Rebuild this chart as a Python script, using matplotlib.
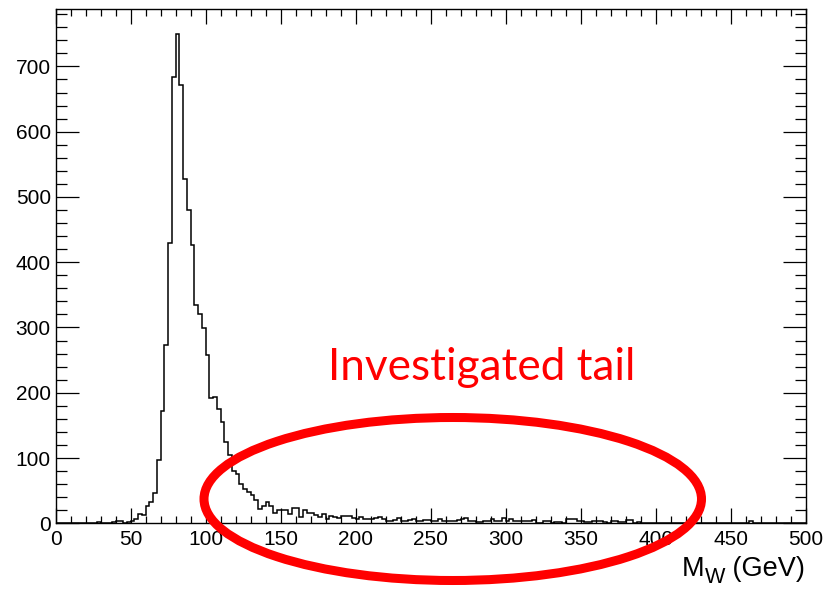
import numpy as np
import matplotlib
matplotlib.use("Agg")
import matplotlib.pyplot as plt
from matplotlib.patches import Ellipse
from matplotlib.ticker import MultipleLocator

# Reconstructed W mass spectrum: 200 bins of 2.5 GeV from 0 to 500 GeV
x_min, x_max, n_bins = 0.0, 500.0, 200
counts = [
    # 0 - 25 GeV
    0, 0, 0, 0, 0, 0, 0, 0, 0, 0,
    # 25 - 50 GeV
    1, 2, 0, 1, 0, 2, 3, 3, 1, 2,
    # 50 - 75 GeV
    4, 7, 14, 12, 27, 33, 46, 97, 172, 273,
    # 75 - 100 GeV
    429, 684, 750, 671, 527, 480, 426, 335, 320, 299,
    # 100 - 125 GeV
    258, 192, 194, 175, 155, 125, 105, 80, 76, 60,
    # 125 - 150 GeV
    52, 48, 43, 36, 22, 27, 33, 27, 16, 21,
    # 150 - 175 GeV
    20, 21, 15, 23, 24, 10, 20, 16, 16, 12,
    # 175 - 200 GeV
    10, 14, 7, 11, 9, 8, 11, 11, 11, 8,
    # 200 - 225 GeV
    6, 9, 7, 7, 7, 8, 10, 6, 3, 4,
    # 225 - 250 GeV
    5, 8, 4, 4, 5, 6, 4, 3, 5, 5,
    # 250 - 275 GeV
    3, 4, 6, 4, 3, 3, 3, 5, 6, 8,
    # 275 - 300 GeV
    4, 3, 2, 2, 4, 4, 6, 3, 3, 8,
    # 300 - 325 GeV
    3, 6, 4, 4, 4, 3, 3, 5, 0, 0,
    # 325 - 350 GeV
    4, 4, 0, 2, 2, 0, 6, 7, 7, 3,
    # 350 - 375 GeV
    3, 2, 2, 4, 3, 3, 2, 0, 3, 3,
    # 375 - 400 GeV
    2, 2, 5, 5, 0, 2, 1, 1, 0, 0,
    # 400 - 425 GeV
    0, 0, 1, 0, 0, 0, 0, 1, 0, 0,
    # 425 - 450 GeV
    1, 0, 0, 0, 0, 0, 0, 0, 0, 0,
    # 450 - 475 GeV
    0, 0, 0, 0, 0, 3, 0, 0, 0, 0,
    # 475 - 500 GeV
    0, 0, 0, 0, 0, 0, 0, 0, 0, 0,
]
title_main = "M"
title_sub = "W"
title_unit = " (GeV)"
note_text = "Investigated tail"

edges = np.linspace(x_min, x_max, n_bins + 1)
counts = np.asarray(counts, dtype=float)

plt.rcParams["font.family"] = ["Liberation Sans", "DejaVu Sans"]

W, H = 828, 590
fig = plt.figure(figsize=(W / 100, H / 100), dpi=100)
ax = fig.add_axes([55.7 / W, 1 - 523.3 / H, 750.0 / W, 514.0 / H])

ax.stairs(counts, edges, color="black", linewidth=1.1, baseline=0)

ax.set_xlim(x_min, x_max)
ax.set_ylim(0, 1.05 * counts.max())

ax.xaxis.set_major_locator(MultipleLocator(50))
ax.xaxis.set_minor_locator(MultipleLocator(10))
ax.yaxis.set_major_locator(MultipleLocator(100))
ax.yaxis.set_minor_locator(MultipleLocator(20))

ax.tick_params(which="both", direction="in", top=True, right=True,
               width=0.9, labelsize=15, colors="black")
ax.tick_params(axis="x", which="major", length=10.5, pad=4.5)
ax.tick_params(axis="x", which="minor", length=5.2)
ax.tick_params(axis="y", which="major", length=16.5, pad=3.5)
ax.tick_params(axis="y", which="minor", length=7.8)
for side in ax.spines.values():
    side.set_linewidth(1.0)

# Axis title built from pieces so the subscript keeps a ROOT-like size
renderer = fig.canvas.get_renderer()
title_size = 19.5
base_y = 1 - 576 / H
unit = fig.text(805 / W, base_y, title_unit, ha="right", va="baseline",
                fontsize=title_size)
x_right = unit.get_window_extent(renderer).x0
sub = fig.text(x_right / W, base_y - 7 / H, title_sub, ha="right",
               va="baseline", fontsize=title_size * 0.8)
x_right = sub.get_window_extent(renderer).x0
fig.text(x_right / W, base_y, title_main, ha="right", va="baseline",
         fontsize=title_size)

# Highlight of the high-mass tail
fig.text(482 / W, 1 - 380 / H, note_text, ha="center", va="baseline",
         fontsize=31.8, color="#ff0000", family=["Lato", "DejaVu Sans"])
ring = Ellipse((452.75 / W, 1 - 499 / H), 497.5 / W, 163 / H,
               transform=fig.transFigure, fill=False,
               edgecolor="#ff0000", linewidth=6.5, clip_on=False)
fig.patches.append(ring)

fig.savefig("out.png", dpi=100, facecolor="white")
